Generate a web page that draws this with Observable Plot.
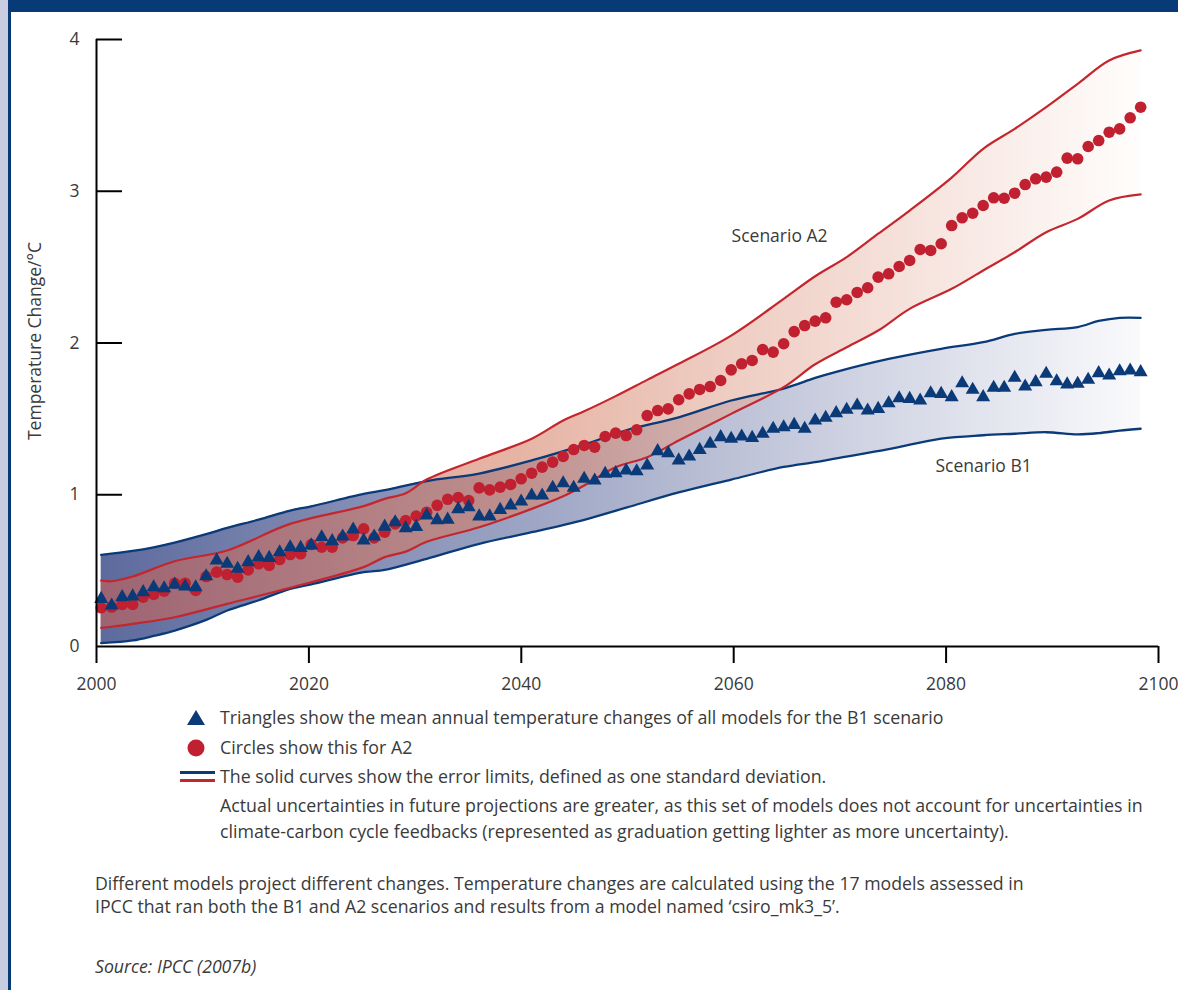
<!DOCTYPE html>
<html><head><meta charset="utf-8">
<script src="https://cdn.jsdelivr.net/npm/d3@7"></script>
<script src="https://cdn.jsdelivr.net/npm/@observablehq/plot@0.6"></script>
<style>
html,body{margin:0;padding:0;background:#fff;overflow:hidden;}
#page{position:relative;width:1178px;height:990px;overflow:hidden;font-family:"Open Sans",Lato,sans-serif;color:#3a3a3a;}
#chart{position:absolute;left:0;top:0;}
.deco{position:absolute;z-index:5;}
.t{position:absolute;font-size:17.8px;line-height:20px;white-space:nowrap;}
.n{font-size:17.7px;}
.icon{position:absolute;}
</style></head><body>
<div id="page">
  <div id="chart"></div>
  <div class="deco" style="left:0;top:0;width:8px;height:990px;background:#c9cde2"></div>
  <div class="deco" style="left:8px;top:0;width:3px;height:990px;background:#083a78"></div>
  <div class="deco" style="left:8px;top:0;width:1170px;height:12px;background:#083a78"></div>

  <svg class="icon" style="left:186px;top:708px" width="22" height="20"><polygon points="10,2 19,17 1,17" fill="#0b3a78"/></svg>
  <svg class="icon" style="left:186px;top:738px" width="22" height="22"><circle cx="10" cy="10" r="8.5" fill="#c0202f"/></svg>
  <svg class="icon" style="left:180px;top:768px" width="36" height="18"><line x1="0" x2="35" y1="4.5" y2="4.5" stroke="#0b3a78" stroke-width="3"/><line x1="0" x2="35" y1="12.5" y2="12.5" stroke="#c4262e" stroke-width="3"/></svg>

  <div class="t" id="l1" style="left:220px;top:707px"></div>
  <div class="t" id="l2" style="left:220px;top:737px"></div>
  <div class="t" id="l3" style="left:220px;top:766px"></div>
  <div class="t" id="l4" style="left:220px;top:795px"></div>
  <div class="t" id="l5" style="left:220px;top:821px"></div>
  <div class="t n" id="n1" style="left:95px;top:873px"></div>
  <div class="t n" id="n2" style="left:95px;top:896px"></div>
  <div class="t n" id="src" style="left:95px;top:956px;font-style:italic"></div>
</div>
<script>
// ---------- data ----------
const years = d3.range(2000, 2100);
const b1Mean = [
  0.314,0.27,0.325,0.33,0.358,0.39,0.384,0.408,0.395,0.39,
  0.463,0.567,0.545,0.512,0.556,0.589,0.584,0.621,0.654,0.65,
  0.666,0.72,0.694,0.725,0.771,0.698,0.725,0.79,0.819,0.78,
  0.788,0.863,0.833,0.836,0.905,0.918,0.857,0.857,0.90,0.929,
  0.955,0.995,0.995,1.046,1.076,1.046,1.105,1.094,1.138,1.142,
  1.16,1.155,1.193,1.287,1.274,1.226,1.252,1.296,1.336,1.38,
  1.369,1.384,1.375,1.402,1.435,1.445,1.46,1.435,1.489,1.507,
  1.538,1.56,1.588,1.555,1.566,1.603,1.636,1.632,1.621,1.669,
  1.665,1.643,1.735,1.692,1.643,1.705,1.705,1.771,1.713,1.742,
  1.797,1.748,1.727,1.731,1.758,1.801,1.786,1.814,1.819,1.808
];
const a2Mean = [
  0.255,0.26,0.277,0.277,0.325,0.343,0.364,0.417,0.417,0.369,
  0.461,0.49,0.474,0.457,0.505,0.545,0.534,0.573,0.606,0.611,
  0.672,0.654,0.654,0.716,0.731,0.775,0.716,0.753,0.808,0.83,
  0.86,0.885,0.93,0.97,0.982,0.962,1.045,1.032,1.05,1.068,
  1.105,1.142,1.182,1.215,1.252,1.298,1.325,1.314,1.384,1.406,
  1.39,1.428,1.522,1.555,1.566,1.626,1.665,1.694,1.713,1.753,
  1.823,1.863,1.885,1.957,1.94,1.995,2.075,2.115,2.144,2.166,
  2.269,2.285,2.333,2.364,2.434,2.456,2.504,2.544,2.616,2.61,
  2.654,2.774,2.825,2.855,2.906,2.957,2.954,2.987,3.044,3.082,
  3.093,3.126,3.218,3.214,3.295,3.334,3.389,3.411,3.484,3.554
];
const b1BandYears = [2000,2003,2005,2007,2010,2012,2015,2018,2020,2025,2027,2031,2036,2041,2046,2050,2055,2060,2065,2068,2070,2075,2080,2084,2087,2090,2093,2095,2097,2099];
const b1Upper = [0.604,0.63,0.654,0.685,0.74,0.782,0.836,0.896,0.924,1.005,1.03,1.09,1.14,1.226,1.33,1.425,1.51,1.621,1.70,1.77,1.81,1.895,1.962,2.005,2.06,2.086,2.105,2.145,2.166,2.166];
const b1Lower = [0.022,0.04,0.07,0.105,0.175,0.237,0.305,0.38,0.41,0.49,0.505,0.578,0.677,0.753,0.835,0.915,1.015,1.10,1.183,1.215,1.24,1.30,1.37,1.392,1.402,1.412,1.398,1.406,1.423,1.435];
const a2BandYears = [2000,2001,2003,2007,2012,2018,2025,2027,2029,2031,2036,2041,2044,2046,2049,2052,2055,2060,2065,2068,2071,2074,2077,2081,2084,2087,2090,2093,2096,2099];
const a2Upper = [0.435,0.43,0.461,0.562,0.633,0.808,0.925,0.973,1.01,1.10,1.237,1.369,1.489,1.55,1.65,1.757,1.863,2.049,2.291,2.44,2.566,2.72,2.873,3.09,3.28,3.411,3.554,3.708,3.862,3.928];
const a2Lower = [0.123,0.13,0.149,0.193,0.281,0.387,0.523,0.589,0.625,0.69,0.786,0.907,0.99,1.061,1.182,1.247,1.357,1.533,1.709,1.86,1.972,2.082,2.225,2.357,2.478,2.598,2.73,2.818,2.939,2.979];
const xTicks = [2000,2020,2040,2060,2080,2100];
const yTicks = [0,1,2,3,4];
const labelText = ["Scenario A2","Scenario B1"];
const labelYear = [2059.8,2079.0];
const labelValue = [2.70,1.19];
const yTitle = "Temperature Change/°C";

// ---------- styles ----------
const NAVY = "#0b3a78", RED = "#c4262e", DOT_RED = "#c0202f", INK = "#3a3a3a";
const FONT = "'Open Sans', Lato, sans-serif";
// series are drawn slightly compressed within each year slot, as in the original artwork
const slot = y => 2000.44 + (y - 2000) * 0.9887;

const b1 = years.map((y, i) => ({year: y, v: b1Mean[i]}));
const a2 = years.map((y, i) => ({year: y, v: a2Mean[i]}));
const b1Band = b1BandYears.map((y, i) => ({year: y, lo: b1Lower[i], hi: b1Upper[i]}));
const a2Band = a2BandYears.map((y, i) => ({year: y, lo: a2Lower[i], hi: a2Upper[i]}));
const labels = labelText.map((t, i) => ({t, x: labelYear[i], y: labelValue[i]}));

function gradients() {
  const defs = d3.create("svg:defs");
  const gb = defs.append("linearGradient").attr("id", "gradB1").attr("x1", 0).attr("x2", 1).attr("y1", 0).attr("y2", 0);
  gb.append("stop").attr("offset", "0").attr("stop-color", "rgb(93,106,157)");
  gb.append("stop").attr("offset", "1").attr("stop-color", "rgb(250,250,252)");
  const gr = defs.append("linearGradient").attr("id", "gradA2").attr("x1", 0).attr("x2", 1).attr("y1", 0).attr("y2", 0);
  gr.append("stop").attr("offset", "0").attr("stop-color", "rgb(200,95,85)");
  gr.append("stop").attr("offset", "0.4").attr("stop-color", "rgb(213,130,105)");
  gr.append("stop").attr("offset", "1").attr("stop-color", "rgb(255,252,250)");
  return defs.node();
}

const curve = "catmull-rom";
const chart = Plot.plot({
  width: 1178, height: 700,
  marginLeft: 96, marginRight: 20, marginTop: 39, marginBottom: 54,
  x: {domain: [2000, 2100]},
  y: {domain: [0, 4]},
  style: {fontFamily: FONT, fontSize: "17.5px", color: INK, background: "transparent"},
  marks: [
    gradients,
    Plot.areaY(b1Band, {x: d => slot(d.year), y1: "lo", y2: "hi", fill: "url(#gradB1)", curve}),
    Plot.areaY(a2Band, {x: d => slot(d.year), y1: "lo", y2: "hi", fill: "url(#gradA2)", fillOpacity: 0.6, curve}),
    Plot.line(b1Band, {x: d => slot(d.year), y: "hi", stroke: NAVY, strokeWidth: 2.3, curve}),
    Plot.line(b1Band, {x: d => slot(d.year), y: "lo", stroke: NAVY, strokeWidth: 2.3, curve}),
    Plot.line(a2Band, {x: d => slot(d.year), y: "hi", stroke: RED, strokeWidth: 2.2, curve}),
    Plot.line(a2Band, {x: d => slot(d.year), y: "lo", stroke: RED, strokeWidth: 2.2, curve}),
    Plot.dot(a2, {x: d => slot(d.year), y: "v", r: 5.8, fill: DOT_RED, stroke: null}),
    Plot.dot(b1, {x: d => slot(d.year), y: "v", r: 5.2, symbol: "triangle", fill: NAVY, stroke: null}),
    Plot.ruleX([xTicks[0]], {stroke: "black", strokeWidth: 2}),
    Plot.ruleY([yTicks[0]], {stroke: "black", strokeWidth: 2}),
    Plot.ruleY(yTicks.slice(1), {x1: xTicks[0], x2: xTicks[0] + 2.45, stroke: "black", strokeWidth: 2}),
    Plot.axisX(xTicks, {tickSize: 17, tickPadding: 14, strokeWidth: 2, stroke: "black", fill: INK, tickFormat: d => String(d), label: null}),
    Plot.axisY(yTicks, {tickSize: 0, tickPadding: 17, fill: INK, tickFormat: d => String(d), label: null}),
    Plot.text([yTitle], {frameAnchor: "left", textAnchor: "middle", rotate: -90, dx: -61, dy: -2, fill: INK, fontSize: 17.5}),
    Plot.text(labels, {x: "x", y: "y", text: "t", textAnchor: "start", fill: INK, fontSize: 17.5})
  ]
});
document.getElementById("chart").appendChild(chart);

// ---------- legend & notes ----------
const legendLines = [
  "Triangles show the mean annual temperature changes of all models for the B1 scenario",
  "Circles show this for A2",
  "The solid curves show the error limits, defined as one standard deviation.",
  "Actual uncertainties in future projections are greater, as this set of models does not account for uncertainties in",
  "climate-carbon cycle feedbacks (represented as graduation getting lighter as more uncertainty)."
];
const notes = [
  "Different models project different changes. Temperature changes are calculated using the 17 models assessed in",
  "IPCC that ran both the B1 and A2 scenarios and results from a model named \u2018csiro_mk3_5\u2019."
];
const source = "Source: IPCC (2007b)";
["l1","l2","l3","l4","l5"].forEach((id, i) => document.getElementById(id).textContent = legendLines[i]);
document.getElementById("n1").textContent = notes[0];
document.getElementById("n2").textContent = notes[1];
document.getElementById("src").textContent = source;
</script>
</body></html>
